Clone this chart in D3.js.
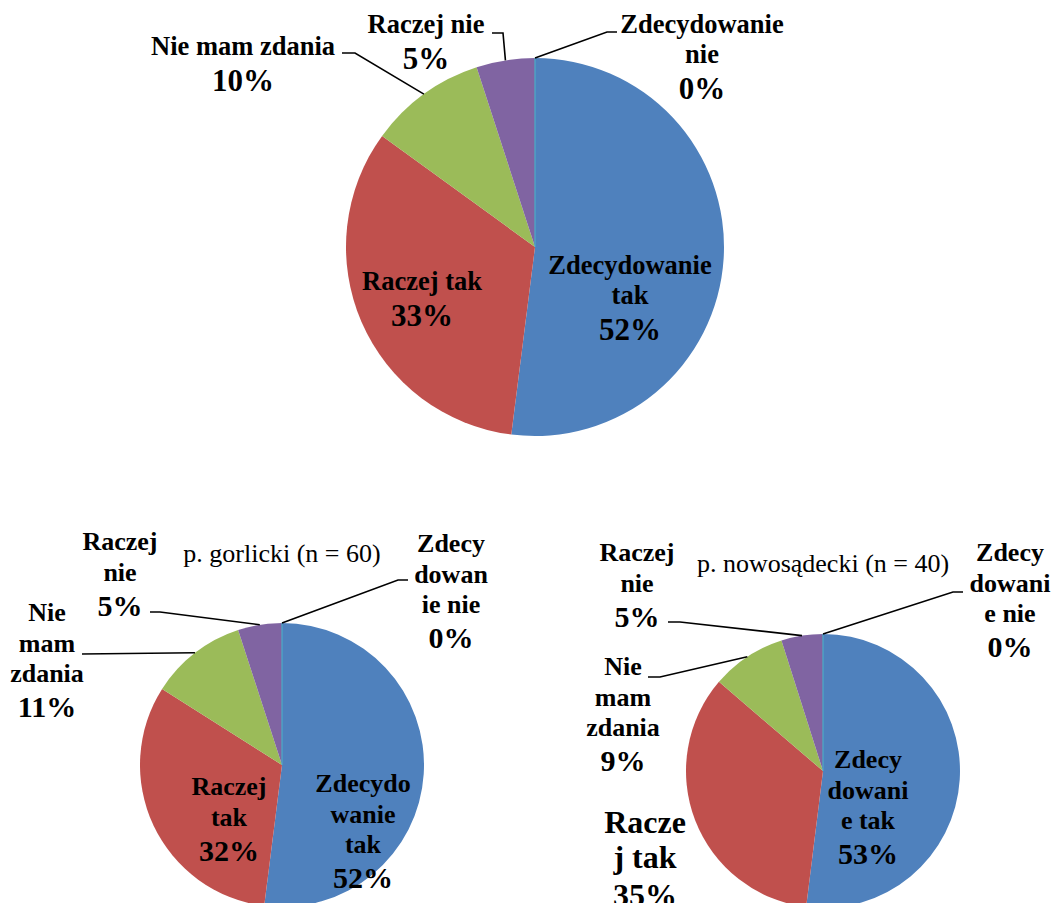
<!DOCTYPE html>
<html lang="pl">
<head>
<meta charset="UTF-8">
<title>Pie charts</title>
<script src="https://d3js.org/d3.v7.min.js"></script>
<style>
  html, body { margin: 0; padding: 0; background: #fff; }
  svg { display: block; }
  text { font-family: "Liberation Serif", "Times New Roman", serif; fill: #000; }
</style>
</head>
<body>
<div id="chart"></div>
<script>
// Data
const categories = ["Zdecydowanie tak", "Raczej tak", "Nie mam zdania", "Raczej nie", "Zdecydowanie nie"];
const valuesTotal = [52, 33, 10, 5, 0];
const valuesGorlicki = [52, 32, 11, 5, 0];
const valuesNowosadecki = [53, 35, 9, 5, 0];
const titles = ["", "p. gorlicki (n = 60)", "p. nowosądecki (n = 40)"];
// label text, already wrapped the way the source wraps it
const linesTotal = [["Zdecydowanie", "tak"], ["Raczej tak"], ["Nie mam zdania"], ["Raczej nie"], ["Zdecydowanie", "nie"]];
const linesGorlicki = [["Zdecydo", "wanie", "tak"], ["Raczej", "tak"], ["Nie", "mam", "zdania"], ["Raczej", "nie"], ["Zdecy", "dowan", "ie nie"]];
const linesNowosadecki = [["Zdecy", "dowani", "e tak"], ["Racze", "j tak"], ["Nie", "mam", "zdania"], ["Raczej", "nie"], ["Zdecy", "dowani", "e nie"]];

const colors = d3.scaleOrdinal()
    .domain(categories)
    .range(["#4F81BD", "#C0504D", "#9BBB59", "#8064A2", "#4BACC6"]);

// Layout (label anchors relative to pie centre; leader = [elbow, end])
const charts = [
  { values: valuesTotal, lines: linesTotal, title: titles[0],
    cx: 535, cy: 247, r: 189, nameSize: 26.5, pctSize: 31, lineH: 30, pctGap: 36,
    labels: [
      { x: 95, y: 27 },
      { x: -113, y: 43 },
      { x: -292, y: -192, leader: [[-180, -194], [-193, -194]] },
      { x: -109, y: -214, leader: [[-32, -214], [-43, -214]] },
      { x: 167, y: -214, leader: [[72, -215], [82, -215]] }
    ] },
  { values: valuesGorlicki, lines: linesGorlicki, title: titles[1], titleY: -203,
    cx: 282, cy: 765, r: 142, nameSize: 26, pctSize: 30, lineH: 30.5, pctGap: 35,
    labels: [
      { x: 81, y: 27 },
      { x: -53, y: 30 },
      { x: -235, y: -144, leader: [[-200, -111]] },
      { x: -162, y: -215, leader: [[-122, -153], [-132, -153]] },
      { x: 169, y: -213, leader: [[116, -185], [126, -185]] }
    ] },
  { values: valuesNowosadecki, lines: linesNowosadecki, title: titles[2], titleY: -199,
    cx: 823, cy: 771, r: 137, nameSize: 26, pctSize: 30, lineH: 30.5, pctGap: 35,
    labels: [
      { x: 45, y: -3 },
      { x: -178, y: 62, nameSize: 32, pctSize: 32, lineH: 35, pctGap: 38 },
      { x: -200, y: -96, leader: [[-163, -94], [-175, -94]] },
      { x: -186, y: -210, leader: [[-143, -149], [-155, -149]] },
      { x: 187, y: -210, leader: [[130, -179], [140, -179]] }
    ] }
];

const W = 1053, H = 903;
const svg = d3.select("#chart").append("svg")
    .attr("width", W)
    .attr("height", H);

const pie = d3.pie().sort(null).value(d => d.value);

charts.forEach(c => {
  const g = svg.append("g").attr("transform", `translate(${c.cx},${c.cy})`);
  const arcs = pie(categories.map((name, i) => ({ name, value: c.values[i], lines: c.lines[i] })));
  const arc = d3.arc().innerRadius(0).outerRadius(c.r);
  const edge = d3.arc().innerRadius(c.r).outerRadius(c.r);

  // slices
  g.selectAll("path.slice")
    .data(arcs)
    .join("path")
    .attr("class", "slice")
    .attr("d", arc)
    .attr("fill", d => colors(d.data.name))
    .attr("stroke", d => d.data.value === 0 ? colors(d.data.name) : "none")
    .attr("stroke-width", 1.2);

  // leader lines, from the slice edge to the label
  arcs.forEach((d, i) => {
    const lab = c.labels[i];
    if (!lab.leader) return;
    const p0 = d.endAngle - d.startAngle === 0
      ? [c.r * Math.sin(d.startAngle), -c.r * Math.cos(d.startAngle)]
      : edge.centroid(d);
    g.append("path")
      .attr("d", d3.line()([p0, ...lab.leader]))
      .attr("fill", "none")
      .attr("stroke", "#000")
      .attr("stroke-width", 1.6);
  });

  // labels
  arcs.forEach((d, i) => {
    const lab = c.labels[i];
    const nameSize = lab.nameSize || c.nameSize;
    const pctSize = lab.pctSize || c.pctSize;
    const lineH = lab.lineH || c.lineH;
    const pctGap = lab.pctGap || c.pctGap;
    const t = g.append("text")
      .attr("text-anchor", "middle")
      .attr("font-weight", "bold");
    d.data.lines.forEach((ln, k) => {
      t.append("tspan")
        .attr("x", lab.x)
        .attr("y", lab.y + k * lineH)
        .attr("font-size", nameSize)
        .text(ln);
    });
    t.append("tspan")
      .attr("x", lab.x)
      .attr("y", lab.y + (d.data.lines.length - 1) * lineH + pctGap)
      .attr("font-size", pctSize)
      .text(d.data.value + "%");
  });

  if (c.title) {
    g.append("text")
      .attr("text-anchor", "middle")
      .attr("x", 0)
      .attr("y", c.titleY)
      .attr("font-size", 26)
      .text(c.title);
  }
});
</script>
</body>
</html>
